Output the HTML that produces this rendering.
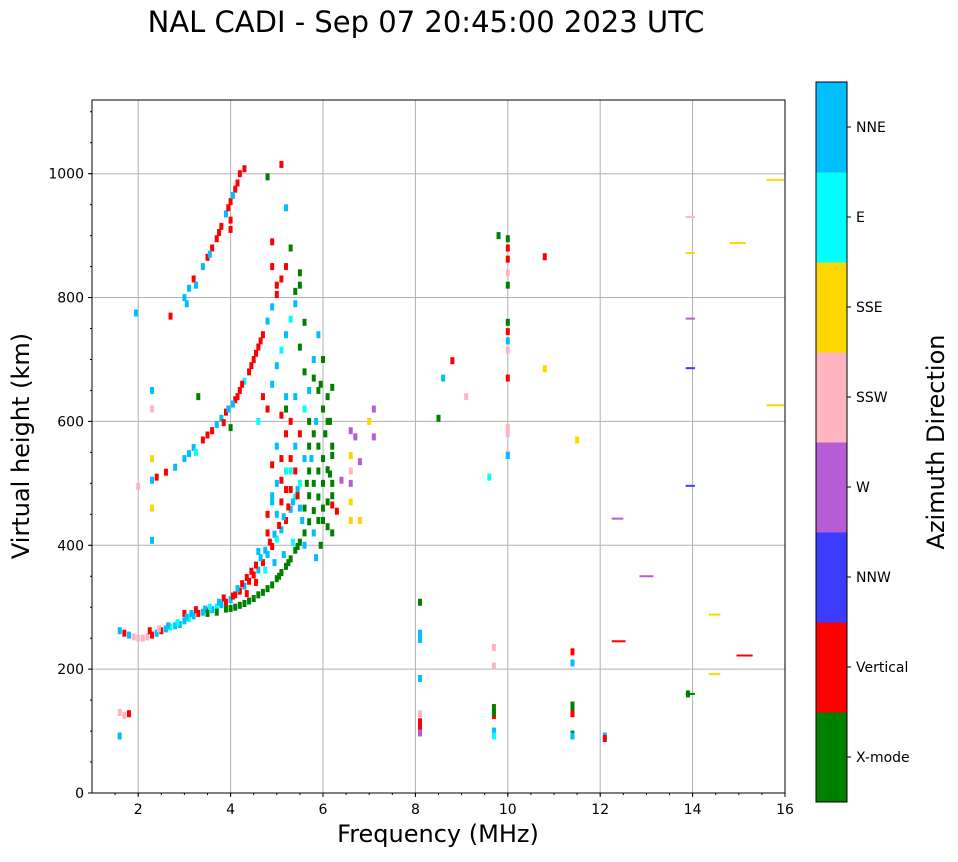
<!DOCTYPE html>
<html><head><meta charset="utf-8"><style>
body{margin:0;background:#fff;}
svg text{font-family:"DejaVu Sans","Liberation Sans",sans-serif;}
</style></head><body>
<svg id="chart" width="958" height="857" viewBox="0 0 958 857" xmlns="http://www.w3.org/2000/svg">
<text x="426" y="32" font-size="29" text-anchor="middle">NAL CADI - Sep 07 20:45:00 2023 UTC</text>
<g id="grid"></g>
<g id="marks"></g>
<rect x="92" y="100" width="693" height="693" fill="none" stroke="#000" stroke-width="1"/>
<g id="axes"></g>
<text x="438" y="842" font-size="24" text-anchor="middle">Frequency (MHz)</text>
<text transform="translate(29,446) rotate(-90)" font-size="24" text-anchor="middle">Virtual height (km)</text>
<g id="cbar"></g>
<text transform="translate(944,442) rotate(-90)" font-size="24" text-anchor="middle">Azimuth Direction</text>
</svg>
<script>
const dirLabels=["X-mode","Vertical","NNW","W","SSW","SSE","E","NNE"];
const dirColors=["#008000","#ff0000","#3c3cff","#b65cd6","#ffb6c1","#ffd700","#00ffff","#00bfff"];
const xTicks=[2,4,6,8,10,12,14,16];
const yTicks=[0,200,400,600,800,1000];
// [freq MHz, height km, direction index]
const lowTrace=[[1.6,262,7],[1.7,258,1],[1.8,255,7],[1.9,252,4],[2.0,250,4],[2.1,250,4],[2.2,252,4],[2.3,255,1],[2.4,258,7],[2.5,262,1],[2.6,265,7],[2.7,268,6],[2.8,270,7],[2.9,272,7],[3.0,278,7],[3.0,290,1],[3.1,282,6],[3.2,286,7],[3.3,290,1],[3.4,292,7],[3.5,294,1],[3.6,296,7],[3.7,300,6],[3.8,304,7],[3.9,308,1],[4.0,312,7],[4.1,320,1],[4.2,326,1],[4.3,334,7],[4.4,342,1],[4.5,352,1],[4.6,360,7],[4.7,372,1],[4.8,385,7],[4.9,398,1],[5.0,410,6],[5.1,425,7],[5.2,440,1],[5.3,458,7],[5.4,478,6],[4.6,390,7],[4.8,420,1],[5.0,450,7],[5.2,490,1],[4.9,470,7],[5.1,505,1],[5.3,520,6],[5.0,560,7],[5.2,580,1],[4.9,530,1]];
const lowTrace2=[[2.25,262,1],[2.45,265,4],[2.65,270,7],[2.85,275,6],[3.05,284,7],[3.15,290,7],[3.25,296,1],[3.45,297,7],[3.55,300,6],[3.75,308,7],[3.85,315,1],[4.05,318,1],[4.15,330,7],[4.25,338,1],[4.35,348,1],[4.45,358,1],[4.55,368,1],[4.65,380,7],[4.75,392,7],[4.85,405,1],[4.95,418,7],[5.05,432,1],[5.15,446,7],[5.25,462,1],[5.35,470,7],[5.45,490,7],[4.75,360,6],[4.95,372,7],[5.15,385,7],[5.35,405,6],[5.55,440,7],[4.55,340,1],[4.35,322,1]];
const xTrace=[[3.5,290,0],[3.7,292,0],[3.9,297,0],[4.1,300,0],[4.3,306,0],[4.5,314,0],[4.7,324,0],[4.9,336,0],[5.0,346,0],[5.1,356,0],[5.2,366,0],[5.3,378,0],[5.4,392,0],[5.5,405,0],[5.6,420,0],[5.7,438,0],[5.8,456,0],[5.9,478,0],[6.0,500,0],[6.1,522,0],[6.2,480,0],[6.2,545,0],[6.0,440,0],[5.8,420,7],[5.6,400,7],[6.1,600,0],[6.0,620,0],[5.9,650,0],[6.2,655,0],[5.7,600,0],[5.6,680,0],[5.8,700,7],[5.5,720,0],[5.6,760,0],[5.4,810,0],[5.5,840,0],[4.0,298,0],[4.2,303,0],[4.4,310,0],[4.6,320,0],[4.8,330,0],[5.05,350,0],[5.25,372,0],[5.45,398,0]];
const cluster=[[5.6,460,0],[5.7,480,0],[5.8,500,0],[5.9,520,0],[6.0,540,0],[5.9,560,0],[5.8,580,0],[6.1,470,0],[6.2,500,0],[6.15,515,0],[6.0,460,0],[5.9,440,0],[6.1,430,0],[6.2,420,0],[5.7,520,0],[5.6,540,7],[5.5,500,6],[5.4,520,1],[5.3,540,1],[5.4,560,7],[5.5,580,1],[5.3,600,1],[5.2,620,0],[5.4,640,7],[5.6,620,6],[5.7,650,7],[5.8,670,0],[6.0,700,0],[5.9,740,7],[5.7,560,0],[5.5,460,7],[5.45,480,1],[5.65,500,0],[5.75,540,7],[5.85,600,7],[6.05,580,0],[6.1,640,0],[5.95,660,0],[5.3,490,1],[5.1,470,1],[5.0,500,7],[5.2,520,6],[5.1,540,1],[4.9,480,7],[4.8,450,1],[6.2,560,0],[6.15,600,0],[5.95,400,0],[5.85,380,7]];
const hop2=[[2.3,505,7],[2.4,510,1],[2.6,518,1],[2.8,526,7],[3.0,540,7],[3.1,548,7],[3.2,558,7],[3.4,570,1],[3.6,585,1],[3.7,595,7],[3.8,605,7],[3.9,615,1],[4.0,590,0],[4.1,635,1],[4.2,650,1],[4.3,665,6],[4.4,680,1],[4.5,700,1],[4.6,720,1],[4.7,740,1],[4.8,762,7],[4.9,785,7],[5.0,805,1],[5.1,830,1],[5.2,850,1],[4.9,660,7],[5.0,690,7],[5.1,715,6],[5.2,740,7],[5.3,765,6],[5.4,790,7],[5.5,820,0],[4.7,640,1],[4.8,620,1],[5.1,610,1],[5.2,640,7],[4.6,600,6],[3.25,550,6],[3.5,578,1],[3.85,598,1],[4.05,628,7],[4.25,660,1],[4.45,690,1],[4.65,730,1],[4.55,710,1],[4.15,640,1],[3.95,620,7]];
const hop3=[[3.0,800,7],[3.1,815,7],[3.2,830,1],[3.4,850,7],[3.5,865,1],[3.6,880,1],[3.7,895,1],[3.8,915,1],[3.9,935,7],[4.0,955,1],[4.1,975,1],[4.2,1000,1],[4.3,1008,1],[4.9,890,1],[4.9,850,1],[5.0,820,1],[5.1,1015,1],[4.8,995,0],[5.2,945,7],[5.3,880,0],[3.05,790,7],[3.25,820,7],[3.55,870,7],[3.75,905,1],[3.95,945,1],[4.05,965,7],[4.15,985,1],[4.0,925,1],[4.0,910,1]];
const scatter=[[1.6,130,4],[1.6,92,7],[1.7,125,4],[1.8,128,1],[1.95,775,7],[2.3,650,7],[2.3,540,5],[2.3,460,5],[2.3,408,7],[2.3,620,4],[2.0,495,4],[2.7,770,1],[3.3,640,0],[6.6,440,5],[6.6,470,5],[6.6,500,3],[6.6,520,4],[6.6,545,5],[6.6,585,3],[6.8,440,5],[6.4,505,3],[6.3,455,1],[6.2,465,1],[7.1,620,3],[7.1,575,3],[7.0,600,5],[6.7,575,3],[6.8,535,3],[8.1,308,0],[8.1,258,7],[8.1,248,7],[8.1,185,7],[8.1,128,4],[8.1,115,1],[8.1,105,1],[8.1,97,3],[8.5,605,0],[8.8,698,1],[8.6,670,7],[9.1,640,4],[9.6,510,6],[9.7,138,0],[9.7,125,1],[9.7,100,7],[9.7,92,6],[9.7,205,4],[9.7,235,4],[9.7,130,0],[10.0,895,0],[10.0,880,1],[10.0,862,1],[10.0,840,4],[10.0,820,0],[10.0,760,0],[10.0,745,1],[10.0,730,7],[10.0,715,4],[10.0,670,1],[10.0,590,4],[10.0,580,4],[10.0,548,4],[10.0,545,7],[9.8,900,0],[10.8,685,5],[10.8,866,1],[11.5,570,5],[11.4,228,1],[11.4,210,7],[11.4,142,0],[11.4,135,0],[11.4,128,1],[11.4,95,0],[11.4,92,7],[12.1,92,7],[12.1,88,1],[13.9,160,0]];
// [freq start MHz, height km, direction index, width MHz]
const streaks=[[15.6,990,5,0.38],[14.8,888,5,0.35],[13.85,930,4,0.2],[13.85,872,5,0.2],[13.85,766,3,0.2],[13.85,686,2,0.2],[13.85,496,2,0.2],[15.6,626,5,0.38],[12.25,443,3,0.25],[12.85,350,3,0.3],[14.35,288,5,0.25],[12.25,245,1,0.3],[14.95,222,1,0.35],[14.35,192,5,0.25],[13.85,160,0,0.2]];

const X0=92,X1=785,Y0=793,Y1=100;
const xs=f=>X0+(f-1)/15*(X1-X0);
const ys=h=>Y0-h/1119*(Y0-Y1);
const NS="http://www.w3.org/2000/svg";
function mk(tag,attrs,parent){const e=document.createElementNS(NS,tag);for(const k in attrs)e.setAttribute(k,attrs[k]);parent.appendChild(e);return e;}
const grid=document.getElementById('grid'),marks=document.getElementById('marks'),axes=document.getElementById('axes'),cbar=document.getElementById('cbar');
xTicks.forEach(t=>{const x=xs(t);
 if(t<16){const g=mk('line',{x1:x,x2:x,y1:Y1,y2:Y0,stroke:'#b0b0b0','stroke-width':1},grid);}
 mk('line',{x1:x,x2:x,y1:Y0,y2:Y0+4,stroke:'#000'},axes);
 const tx=mk('text',{x:x,y:Y0+21,'font-size':14,'text-anchor':'middle'},axes);tx.textContent=t;
 });
for(let f=1.5;f<16;f+=0.5){mk('line',{x1:xs(f),x2:xs(f),y1:Y0,y2:Y0+2,stroke:'#000'},axes);}
yTicks.forEach(t=>{const y=ys(t);
 if(t>0){const g=mk('line',{x1:X0,x2:X1,y1:y,y2:y,stroke:'#b0b0b0','stroke-width':1},grid);}
 mk('line',{x1:X0-4,x2:X0,y1:y,y2:y,stroke:'#000'},axes);
 const tx=mk('text',{x:X0-8,y:y+5,'font-size':14,'text-anchor':'end'},axes);tx.textContent=t;
 });
for(let h=50;h<1119;h+=50){mk('line',{x1:X0-2,x2:X0,y1:ys(h),y2:ys(h),stroke:'#000'},axes);}
[lowTrace,lowTrace2,xTrace,cluster,hop2,hop3,scatter].forEach(arr=>arr.forEach(p=>{
 const r=mk('rect',{x:xs(p[0])-2,y:ys(p[1])-3.5,width:4,height:7,fill:dirColors[p[2]]},marks);
 }));
streaks.forEach(s=>{const r=mk('rect',{x:xs(s[0]),y:ys(s[1])-1,width:s[3]*(X1-X0)/15,height:2,fill:dirColors[s[2]]},marks);
 });
const CB_X=816,CB_W=31,CB_TOP=82,CB_BOT=802,n=dirLabels.length,seg=(CB_BOT-CB_TOP)/n;
dirLabels.forEach((lab,i)=>{const y=CB_BOT-(i+1)*seg;
 const r=mk('rect',{x:CB_X,y:y,width:CB_W,height:seg+0.5,fill:dirColors[i]},cbar);
 
 mk('line',{x1:CB_X+CB_W,x2:CB_X+CB_W+4,y1:y+seg/2,y2:y+seg/2,stroke:'#000'},cbar);
 const tx=mk('text',{x:CB_X+CB_W+9,y:y+seg/2+5,'font-size':14},cbar);tx.textContent=lab;
 });
mk('rect',{x:CB_X,y:CB_TOP,width:CB_W,height:CB_BOT-CB_TOP,fill:'none',stroke:'#000'},cbar);
</script>
</body></html>
